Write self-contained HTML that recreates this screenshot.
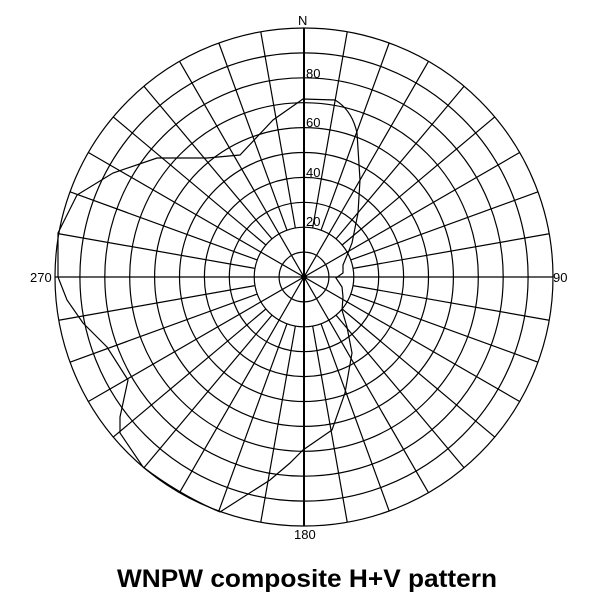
<!DOCTYPE html>
<html><head><meta charset="utf-8"><style>
html,body{margin:0;padding:0;background:#fff;}
svg{display:block;}
text{font-family:"Liberation Sans",sans-serif;}
</style></head><body>
<svg width="614" height="598" viewBox="0 0 614 598" xmlns="http://www.w3.org/2000/svg">
<g transform="translate(304,277)" fill="none" stroke="#000" stroke-width="1.2">
<circle r="24.9"/><circle r="49.8"/><circle r="74.7"/><circle r="99.6"/><circle r="124.5"/>
<circle r="149.4"/><circle r="174.3"/><circle r="199.2"/><circle r="224.1"/><circle r="249"/>
<line x1="0" y1="-249" x2="0" y2="249" stroke-width="2"/>
<line x1="-249" y1="0" x2="249" y2="0"/>
<line x1="0" y1="-249" x2="0" y2="249" transform="rotate(30)"/>
<line x1="0" y1="-249" x2="0" y2="249" transform="rotate(60)"/>
<line x1="0" y1="-249" x2="0" y2="249" transform="rotate(120)"/>
<line x1="0" y1="-249" x2="0" y2="249" transform="rotate(150)"/>
<g>
<line x1="0" y1="-49.8" x2="0" y2="-249" transform="rotate(10)"/>
<line x1="0" y1="-49.8" x2="0" y2="-249" transform="rotate(20)"/>
<line x1="0" y1="-49.8" x2="0" y2="-249" transform="rotate(40)"/>
<line x1="0" y1="-49.8" x2="0" y2="-249" transform="rotate(50)"/>
<line x1="0" y1="-49.8" x2="0" y2="-249" transform="rotate(70)"/>
<line x1="0" y1="-49.8" x2="0" y2="-249" transform="rotate(80)"/>
<line x1="0" y1="-49.8" x2="0" y2="-249" transform="rotate(100)"/>
<line x1="0" y1="-49.8" x2="0" y2="-249" transform="rotate(110)"/>
<line x1="0" y1="-49.8" x2="0" y2="-249" transform="rotate(130)"/>
<line x1="0" y1="-49.8" x2="0" y2="-249" transform="rotate(140)"/>
<line x1="0" y1="-49.8" x2="0" y2="-249" transform="rotate(160)"/>
<line x1="0" y1="-49.8" x2="0" y2="-249" transform="rotate(170)"/>
<line x1="0" y1="-49.8" x2="0" y2="-249" transform="rotate(190)"/>
<line x1="0" y1="-49.8" x2="0" y2="-249" transform="rotate(200)"/>
<line x1="0" y1="-49.8" x2="0" y2="-249" transform="rotate(220)"/>
<line x1="0" y1="-49.8" x2="0" y2="-249" transform="rotate(230)"/>
<line x1="0" y1="-49.8" x2="0" y2="-249" transform="rotate(250)"/>
<line x1="0" y1="-49.8" x2="0" y2="-249" transform="rotate(260)"/>
<line x1="0" y1="-49.8" x2="0" y2="-249" transform="rotate(280)"/>
<line x1="0" y1="-49.8" x2="0" y2="-249" transform="rotate(290)"/>
<line x1="0" y1="-49.8" x2="0" y2="-249" transform="rotate(310)"/>
<line x1="0" y1="-49.8" x2="0" y2="-249" transform="rotate(320)"/>
<line x1="0" y1="-49.8" x2="0" y2="-249" transform="rotate(340)"/>
<line x1="0" y1="-49.8" x2="0" y2="-249" transform="rotate(350)"/>
</g>
<circle r="3" fill="#000" stroke="none"/>
</g>
<path fill="none" stroke="#000" stroke-width="1.2" d="M303,99 L335,100 Q352,110 357,133 L360,180 L358,213 L352,243 L348,253 L343,265 L343,273 L336,278 L342,287 L343,297 L342,310 L347,327 L352,353 L345,393 L332,430 L303,450 L290,463 L270,480 L220,512 Q180,495 143,467 L120,433 L120,417 L128,380 L107,347 L83,323 L67,300 L58,277 L58,233 L77,195 L113,173 L157,158 L207,158 L240,155 L273,120 Z"/>
<g font-size="13" fill="#000">
<text x="298" y="25">N</text>
<text x="306" y="226">20</text>
<text x="306" y="177">40</text>
<text x="306" y="127">60</text>
<text x="306" y="78">80</text>
<text x="30" y="282">270</text>
<text x="553" y="282">90</text>
<text x="294" y="539">180</text>
</g>
<text x="307" y="587" text-anchor="middle" font-size="25" font-weight="bold" textLength="380" lengthAdjust="spacingAndGlyphs">WNPW composite H+V pattern</text>
</svg>
</body></html>
